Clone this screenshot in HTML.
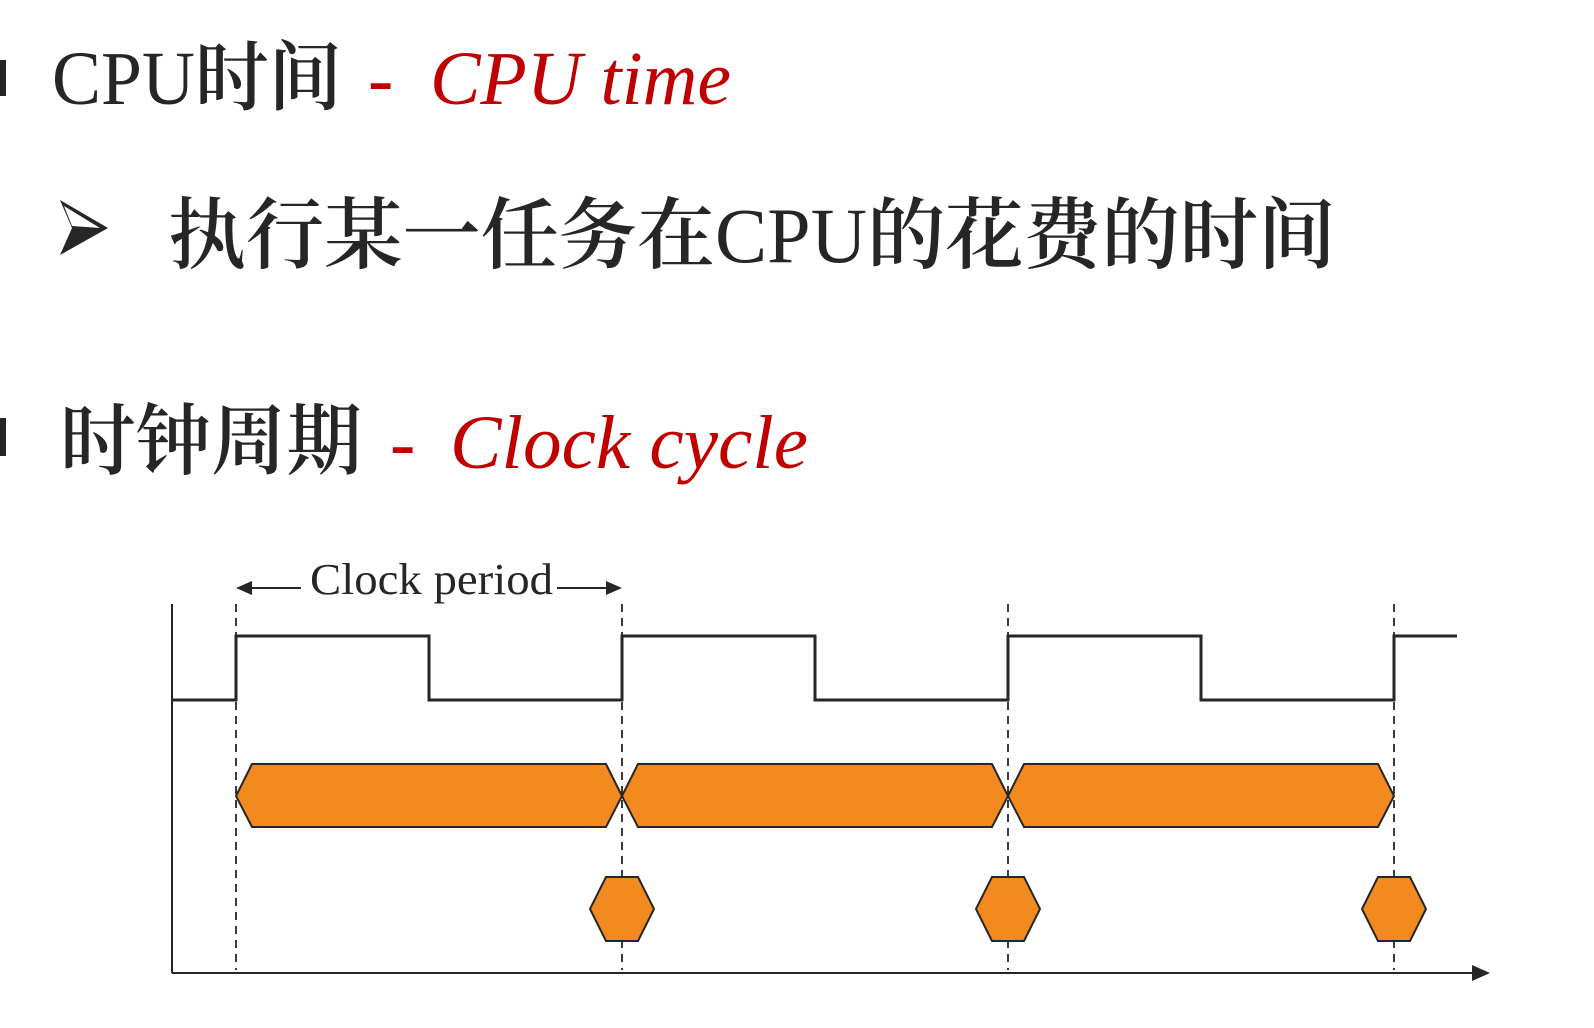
<!DOCTYPE html>
<html><head><meta charset="utf-8"><style>html,body{margin:0;padding:0;background:#fff;width:1594px;height:1028px;overflow:hidden}</style></head>
<body>
<svg width="1594" height="1028" viewBox="0 0 1594 1028" xmlns="http://www.w3.org/2000/svg">
<rect x="0" y="60" width="6" height="36" fill="#262626"/>
<rect x="0" y="418" width="6" height="38" fill="#262626"/>
<text x="52" y="104" font-family="'Liberation Serif','Noto Serif CJK SC',serif" font-size="76" fill="#262626" textLength="290" lengthAdjust="spacingAndGlyphs">CPU<tspan font-family="'Noto Serif CJK SC',serif" font-weight="600">时间</tspan></text>
<text x="368" y="104" font-family="'Liberation Serif',serif" font-size="76" fill="#c00000" font-style="italic">-</text>
<text x="430" y="104" font-family="'Liberation Serif',serif" font-size="76" fill="#c00000" font-style="italic" textLength="301" lengthAdjust="spacingAndGlyphs">CPU time</text>
<path d="M60 200 L108 228 L60 255 L72 228 Z" fill="#262626"/>
<path d="M64 206 L100 228 L72 226 Z" fill="#fff"/>
<text x="168" y="262" font-family="'Liberation Serif','Noto Serif CJK SC',serif" font-size="78" fill="#262626" textLength="1168" lengthAdjust="spacingAndGlyphs"><tspan font-family="'Noto Serif CJK SC',serif" font-weight="600">执行某一任务在</tspan>CPU<tspan font-family="'Noto Serif CJK SC',serif" font-weight="600">的花费的时间</tspan></text>
<text x="60" y="468" font-family="'Noto Serif CJK SC',serif" font-size="78" fill="#262626" font-weight="600" textLength="302" lengthAdjust="spacingAndGlyphs">时钟周期</text>
<text x="390" y="468" font-family="'Liberation Serif',serif" font-size="76" fill="#c00000" font-style="italic">-</text>
<text x="450" y="468" font-family="'Liberation Serif',serif" font-size="76" fill="#c00000" font-style="italic" textLength="358" lengthAdjust="spacingAndGlyphs">Clock cycle</text>

<g stroke="#262626" fill="none">
<line x1="172" y1="604" x2="172" y2="973" stroke-width="2"/>
<line x1="172" y1="973" x2="1476" y2="973" stroke-width="2"/>
<path d="M1472 965 L1490 973 L1472 981 Z" fill="#262626" stroke="none"/>
<g stroke-dasharray="8,6" stroke-width="1.8">
<line x1="236" y1="604" x2="236" y2="970"/>
<line x1="622" y1="604" x2="622" y2="970"/>
<line x1="1008" y1="604" x2="1008" y2="970"/>
<line x1="1394" y1="604" x2="1394" y2="970"/>
</g>
<path d="M172 700 H236 V636 H429 V700 H622 V636 H815 V700 H1008 V636 H1201 V700 H1394 V636 H1457" stroke-width="3"/>
<g fill="#f28a20" stroke-width="2">
<path d="M236 796 L252 764 H606 L622 796 L606 827 H252 Z"/>
<path d="M622 796 L638 764 H992 L1008 796 L992 827 H638 Z"/>
<path d="M1008 796 L1024 764 H1378 L1394 796 L1378 827 H1024 Z"/>
<path d="M590 909 L606 877 H638 L654 909 L638 941 H606 Z"/>
<path d="M976 909 L992 877 H1024 L1040 909 L1024 941 H992 Z"/>
<path d="M1362 909 L1378 877 H1410 L1426 909 L1410 941 H1378 Z"/>
</g>
<line x1="250" y1="588" x2="301" y2="588" stroke-width="2"/>
<line x1="557" y1="588" x2="610" y2="588" stroke-width="2"/>
<path d="M236 588 L252 581 L252 595 Z" fill="#262626" stroke="none"/>
<path d="M622 588 L606 581 L606 595 Z" fill="#262626" stroke="none"/>
</g>
<text x="310" y="594" font-family="'Liberation Serif',serif" font-size="44" fill="#262626" textLength="243" lengthAdjust="spacingAndGlyphs">Clock period</text>
</svg>
</body></html>
